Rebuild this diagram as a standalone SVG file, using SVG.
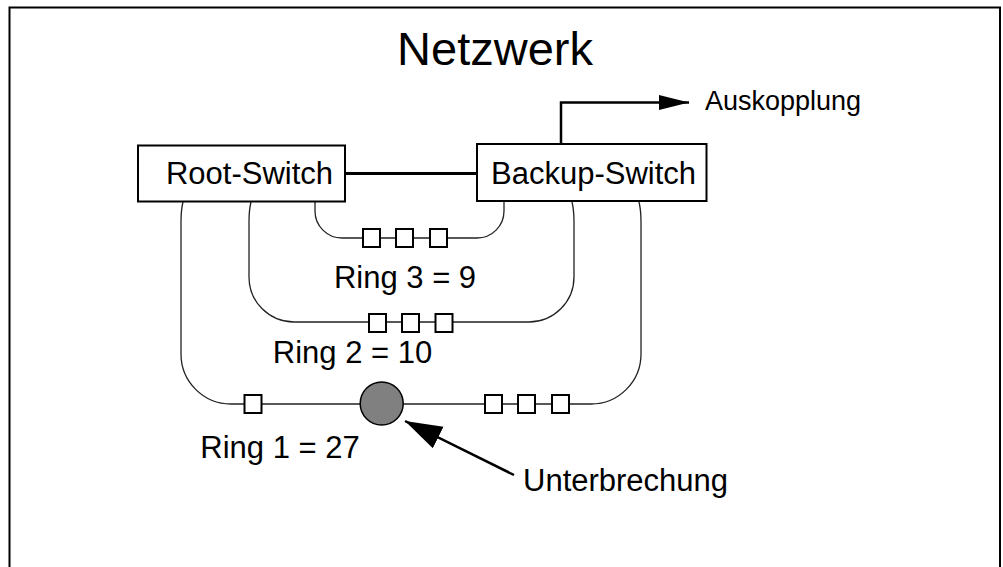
<svg xmlns="http://www.w3.org/2000/svg" width="1003" height="567" viewBox="0 0 1003 567">
<style>
text{font-family:"Liberation Sans",Arial,sans-serif;fill:#000}
.lbl{font-size:31px}
.box{fill:#fff;stroke:#000;stroke-width:2}
.ring{fill:none;stroke:#222;stroke-width:1.3}
.sq{fill:#fff;stroke:#000;stroke-width:2}
.arr{fill:none;stroke:#000;stroke-width:2.5}
</style>
<defs>
<marker id="ah" markerUnits="userSpaceOnUse" markerWidth="34" markerHeight="16" refX="30" refY="8" orient="auto">
<path d="M0,0.5 L30,8 L0,15.5 Z" fill="#000"/>
</marker>
<marker id="ah2" markerUnits="userSpaceOnUse" markerWidth="40" markerHeight="26" refX="37" refY="13" orient="auto">
<path d="M0,1 L37,13 L0,25 L0,13 Z" fill="#000"/>
</marker>
</defs>
<rect x="9.5" y="7.5" width="990.5" height="620" fill="#fff" stroke="#000" stroke-width="2"/>
<text x="495" y="65" text-anchor="middle" style="font-size:47px">Netzwerk</text>
<g id="connectors">
<path class="ring" d="M183,202 Q181,210 181,222 L181,354 A50,50 0 0 0 231,404 L591,404 A50,50 0 0 0 641,354 L641,222 Q641,210 639,202"/>
<path class="ring" d="M251,202 Q249,210 249,222 L249,277 A45,45 0 0 0 294,322 L529,322 A45,45 0 0 0 574,277 L574,222 Q574,210 572,202"/>
<path class="ring" d="M315,201 L315,211 A27,27 0 0 0 342,238 L477,238 A27,27 0 0 0 504,211 L504,201"/>
<line x1="345" y1="173.5" x2="477" y2="173.5" stroke="#000" stroke-width="3"/>
<path class="arr" d="M561,144 L561,102.5 L689,102.5" marker-end="url(#ah)"/>
<path class="arr" d="M514,475 L405,421" marker-end="url(#ah2)"/>
</g>
<g id="root-switch">
<rect class="box" x="138" y="145.5" width="207" height="56"/>
<text class="lbl" x="249.5" y="184" text-anchor="middle">Root-Switch</text>
</g>
<g id="backup-switch">
<rect class="box" x="477" y="144" width="229.5" height="57"/>
<text class="lbl" x="593.5" y="184" text-anchor="middle">Backup-Switch</text>
</g>
<g id="ring3-nodes">
<rect class="sq" x="363" y="229" width="17" height="18"/>
<rect class="sq" x="396" y="229" width="17" height="18"/>
<rect class="sq" x="430" y="229" width="17" height="18"/>
</g>
<g id="ring2-nodes">
<rect class="sq" x="369" y="314" width="17" height="18"/>
<rect class="sq" x="402" y="314" width="17" height="18"/>
<rect class="sq" x="435.5" y="314" width="17" height="18"/>
</g>
<g id="ring1-nodes">
<rect class="sq" x="244.5" y="395" width="17" height="18"/>
<rect class="sq" x="485" y="395" width="17" height="18"/>
<rect class="sq" x="518" y="395" width="17" height="18"/>
<rect class="sq" x="552" y="395" width="17" height="18"/>
</g>
<g id="unterbrechung-point">
<circle cx="381.7" cy="403.5" r="21.5" fill="#808080" stroke="#000" stroke-width="1.5"/>
</g>
<g id="labels">
<text class="lbl" x="405" y="288" text-anchor="middle">Ring 3 = 9</text>
<text class="lbl" x="352.5" y="363" text-anchor="middle">Ring 2 = 10</text>
<text class="lbl" x="280" y="457.5" text-anchor="middle">Ring 1 = 27</text>
<text class="lbl" x="523" y="491">Unterbrechung</text>
<text x="705" y="109.5" style="font-size:27px">Auskopplung</text>
</g>
</svg>
